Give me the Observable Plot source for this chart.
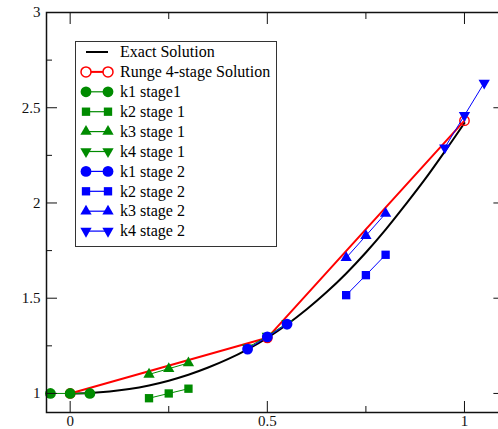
<!DOCTYPE html>
<html><head><meta charset="utf-8">
<script src="https://cdn.jsdelivr.net/npm/d3@7"></script>
<script src="https://cdn.jsdelivr.net/npm/@observablehq/plot@0.6"></script>
<style>
html,body{margin:0;padding:0;background:#fff;overflow:hidden;}
#chart svg{display:block;}
</style></head><body><div id="chart"></div>
<script>
// ---- data ----
const exactX = [0, 0.05, 0.1, 0.15, 0.2, 0.25, 0.3, 0.35, 0.4, 0.45, 0.5, 0.55, 0.6, 0.65, 0.7, 0.75, 0.8, 0.85, 0.9, 0.95, 1.0];
const exactY = [1.0, 1.0025, 1.01, 1.023, 1.042, 1.067, 1.098, 1.136, 1.18, 1.232, 1.292, 1.362, 1.442, 1.531, 1.63, 1.74, 1.86, 1.99, 2.125, 2.27, 2.42];
const rkX = [0, 0.5, 1];
const rkY = [1, 1.292, 2.432];
const k1s1X = [-0.05, 0, 0.05];  const k1s1Y = [1, 1, 1];
const k2s1X = [0.2, 0.25, 0.3];  const k2s1Y = [0.975, 1.0, 1.025];
const k3s1X = [0.2, 0.25, 0.3];  const k3s1Y = [1.10, 1.13, 1.16];
const k4s1X = [0.45, 0.5, 0.55]; const k4s1Y = [1.24, 1.302, 1.368];
const k1s2X = [0.45, 0.5, 0.55]; const k1s2Y = [1.233, 1.297, 1.364];
const k2s2X = [0.7, 0.75, 0.8];  const k2s2Y = [1.516, 1.621, 1.728];
const k3s2X = [0.7, 0.75, 0.8];  const k3s2Y = [1.712, 1.828, 1.945];
const k4s2X = [0.95, 1.0, 1.05]; const k4s2Y = [2.29, 2.46, 2.63];
const xMajor = [0, 0.5, 1];
const xMinor = [0.25, 0.75];
const yMajor = [1, 1.5, 2, 2.5, 3];
const yMinor = [1.25, 1.75, 2.25, 2.75];
const legendLabels = ["Exact Solution", "Runge 4-stage Solution", "k1 stage1", "k2 stage 1", "k3 stage 1", "k4 stage 1", "k1 stage 2", "k2 stage 2", "k3 stage 2", "k4 stage 2"];

// ---- styling ----
const GREEN = "rgb(0,139,0)", BLUE = "rgb(0,0,255)", RED = "rgb(255,0,0)";
const zip = (xs, ys) => xs.map((x, i) => ({x, y: ys[i]}));
const stages = [
  {xs: k1s1X, ys: k1s1Y, color: GREEN, symbol: "circle", rotate: 0, r: 5.4},
  {xs: k2s1X, ys: k2s1Y, color: GREEN, symbol: "square", rotate: 0, r: 4.7},
  {xs: k3s1X, ys: k3s1Y, color: GREEN, symbol: "triangle", rotate: 0, r: 4.2},
  {xs: k4s1X, ys: k4s1Y, color: GREEN, symbol: "triangle", rotate: 180, r: 4.2},
  {xs: k1s2X, ys: k1s2Y, color: BLUE, symbol: "circle", rotate: 0, r: 5.4},
  {xs: k2s2X, ys: k2s2Y, color: BLUE, symbol: "square", rotate: 0, r: 4.7},
  {xs: k3s2X, ys: k3s2Y, color: BLUE, symbol: "triangle", rotate: 0, r: 4.2},
  {xs: k4s2X, ys: k4s2Y, color: BLUE, symbol: "triangle", rotate: 180, r: 4.2}
];

const FONT = "'Liberation Serif', 'Times New Roman', serif";
const blank = () => "";
const ax = {label: null, stroke: "#111"};
const marks = [
  Plot.line(zip(exactX, exactY), {x: "x", y: "y", stroke: "black", strokeWidth: 2, curve: "catmull-rom"}),
  Plot.line(zip(rkX, rkY), {x: "x", y: "y", stroke: RED, strokeWidth: 2}),
  Plot.dot(zip(rkX, rkY), {x: "x", y: "y", r: 4.7, stroke: RED, strokeWidth: 1.4, fill: "none"})
];
for (const s of stages) {
  const d = zip(s.xs, s.ys);
  marks.push(Plot.line(d, {x: "x", y: "y", stroke: s.color, strokeWidth: 1}));
  marks.push(Plot.dot(d, {x: "x", y: "y", r: s.r, symbol: s.symbol, rotate: s.rotate, fill: s.color, stroke: "none"}));
}
marks.push(
  Plot.frame({stroke: "#111", strokeWidth: 1.5}),
  Plot.axisX(xMajor, {...ax, anchor: "bottom", tickSize: -11, tickPadding: 14, tickFormat: d => String(d), fontSize: 15}),
  Plot.axisX(xMinor, {...ax, anchor: "bottom", tickSize: -6, tickFormat: blank}),
  Plot.axisX(xMajor, {...ax, anchor: "top", tickSize: -11, tickFormat: blank}),
  Plot.axisX(xMinor, {...ax, anchor: "top", tickSize: -6, tickFormat: blank}),
  Plot.axisY(yMajor, {...ax, anchor: "left", tickSize: -11, tickPadding: 17, tickFormat: d => String(d), fontSize: 15}),
  Plot.axisY(yMinor, {...ax, anchor: "left", tickSize: -6, tickFormat: blank}),
  Plot.axisY(yMajor, {...ax, anchor: "right", tickSize: -11, tickFormat: blank}),
  Plot.axisY(yMinor, {...ax, anchor: "right", tickSize: -6, tickFormat: blank})
);

const chart = Plot.plot({
  width: 498,
  height: 429,
  marginTop: 12,
  marginBottom: 17,
  marginLeft: 46,
  marginRight: -5.4,
  style: {fontFamily: FONT, fontSize: "15px", color: "#111", background: "white", overflow: "hidden"},
  x: {domain: [-0.06, 1.1], label: null},
  y: {domain: [0.9, 3], label: null},
  marks
});
document.getElementById("chart").appendChild(chart);

// ---- legend (drawn into the same SVG) ----
const svg = d3.select(chart);
const lg = svg.append("g").attr("font-family", FONT).attr("font-size", 16).attr("text-anchor", "start");
lg.append("rect").attr("x", 75.5).attr("y", 41.5).attr("width", 201).attr("height", 205)
  .attr("fill", "white").attr("stroke", "#333").attr("stroke-width", 1);
const rowY = i => 52 + i * 19.9;
const x0 = 86, x1 = 108;
legendLabels.forEach((label, i) => {
  lg.append("text").attr("x", 120).attr("y", rowY(i)).attr("dy", "0.33em")
    .attr("text-anchor", "start").attr("fill", "black").text(label);
});
lg.append("line").attr("x1", x0).attr("x2", x1).attr("y1", rowY(0)).attr("y2", rowY(0)).attr("stroke", "black").attr("stroke-width", 2);
lg.append("line").attr("x1", x0).attr("x2", x1).attr("y1", rowY(1)).attr("y2", rowY(1)).attr("stroke", RED).attr("stroke-width", 2);
[x0, x1].forEach(x => lg.append("circle").attr("cx", x).attr("cy", rowY(1)).attr("r", 5).attr("fill", "white").attr("stroke", RED).attr("stroke-width", 1.5));
const symMap = {circle: d3.symbolCircle, square: d3.symbolSquare, triangle: d3.symbolTriangle};
stages.forEach((s, j) => {
  const y = rowY(j + 2);
  lg.append("line").attr("x1", x0).attr("x2", x1).attr("y1", y).attr("y2", y).attr("stroke", s.color).attr("stroke-width", 1.2);
  const path = d3.symbol().type(symMap[s.symbol]).size(Math.PI * s.r * s.r)();
  [x0, x1].forEach(x => lg.append("path").attr("d", path).attr("fill", s.color)
    .attr("transform", `translate(${x},${y}) rotate(${s.rotate})`));
});
</script></body></html>
